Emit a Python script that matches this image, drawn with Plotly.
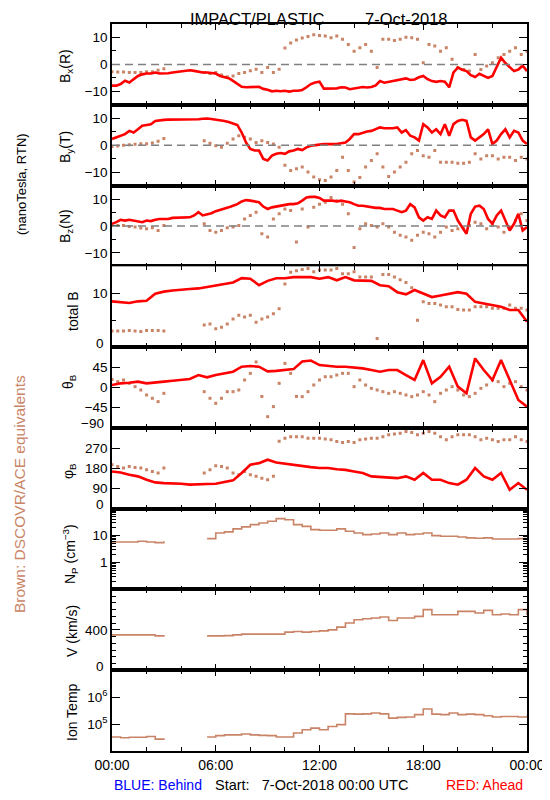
import plotly.graph_objects as go
from plotly.subplots import make_subplots

# ---------------- time grids (hours after 7-Oct-2018 00:00 UTC) ----------------
t_q = [i * 0.25 for i in range(97)]      # red (Ahead) magnetic field, 15-min
t_h = [i * 0.5 for i in range(49)]       # red angles / |B|, plasma, 30-min
t_b = [i / 3 for i in range(73)]         # brown (DSCOVR/ACE) field, 20-min

# ---------------- RED: Ahead ----------------
bx_ahead = [-7.9, -7.9, -7.3, -6.1, -6.7, -5.5, -4.3, -3.7, -3.4, -3.4, -3.0, -3.4,
            -3.4, -3.3, -3.0, -2.8, -2.7, -2.4, -2.2, -2.4, -2.8, -3.0, -3.0, -3.3,
            -3.4, -4.3, -4.6, -5.1, -6.1, -7.3, -8.3, -8.5, -8.5, -8.5, -8.3, -9.1,
            -9.4, -10.0, -9.8, -10.0, -9.8, -10.1, -9.8, -9.8, -9.5, -8.5, -7.3, -6.7,
            -6.4, -9.0, -8.9, -8.8, -8.9, -8.5, -8.6, -9.2, -9.0, -8.6, -8.4, -8.6,
            -8.4, -7.8, -6.2, -6.8, -6.5, -6.0, -5.9, -5.5, -5.2, -5.8, -5.6, -4.8,
            -4.3, -5.5, -6.2, -6.5, -6.2, -6.4, -8.5, -3.0, -1.2, -2.0, -2.5, -4.0,
            -4.7, -3.5, -4.3, -5.0, -4.3, -1.0, 2.5, 0.5, -1.2, -2.5, -1.9, -0.5,
            -2.5]
by_ahead = [2.3, 2.9, 3.5, 4.1, 5.3, 4.7, 5.9, 7.2, 7.5, 7.8, 9.0, 9.3,
            9.4, 9.5, 9.5, 9.5, 9.6, 9.6, 9.7, 9.6, 9.6, 9.8, 9.9, 9.7,
            9.5, 9.3, 9.0, 8.6, 8.1, 7.5, 4.7, 1.0, -1.4, -2.0, -2.0, -5.1,
            -5.7, -3.9, -3.2, -2.9, -3.2, -2.3, -2.0, -1.4, -1.8, -0.8, -0.2, 0.1,
            0.2, 0.4, 0.4, 0.4, 0.4, 0.7, 1.0, 2.3, 4.1, 4.1, 4.7, 5.1,
            5.3, 5.9, 6.6, 6.3, 6.3, 6.3, 6.6, 4.7, 5.6, 3.5, 2.9, 1.7,
            7.8, 6.6, 4.7, 5.9, 4.1, 7.8, 3.5, 7.8, 9.0, 9.4, 9.0, 2.9,
            1.7, 2.9, 4.1, 5.9, 0.4, 1.7, 4.1, 5.9, 2.9, 5.3, 4.7, 1.7,
            0.4]
bz_ahead = [0.8, 1.4, 2.3, 2.0, 2.3, 2.0, 1.8, 1.4, 2.0, 1.8, 2.3, 2.6,
            2.6, 2.6, 3.0, 3.0, 3.0, 3.2, 3.2, 3.9, 5.1, 3.9, 4.2, 4.7,
            5.5, 5.9, 6.3, 6.9, 7.5, 8.1, 9.1, 9.6, 9.4, 9.1, 8.8, 7.2,
            6.3, 6.9, 7.2, 7.5, 7.9, 8.1, 8.1, 8.4, 9.4, 10.6, 10.8, 10.8,
            10.4, 9.4, 9.4, 9.4, 9.1, 9.4, 9.1, 8.8, 8.1, 7.5, 7.5, 7.2,
            6.9, 6.7, 6.7, 6.3, 6.3, 6.3, 5.7, 5.1, 5.7, 8.1, 6.9, 3.2,
            2.0, 3.2, 2.6, 5.7, 3.9, 3.2, 5.7, 5.7, 2.0, -0.4, -2.9, 4.5,
            7.2, 7.5, 6.3, 2.6, 0.8, 3.9, 5.7, 2.0, -1.7, 0.8, 4.5, -1.7,
            -0.4]
bt_ahead = [8.5, 8.3, 8.2, 8.5, 8.6, 9.9, 10.3, 10.5, 10.7, 10.8, 10.9, 11.2,
            11.4, 11.7, 12.0, 12.8, 12.7, 11.5, 12.3, 12.8, 12.8, 13.0, 13.0, 13.0,
            12.7, 13.0, 12.4, 13.0, 12.4, 12.4, 12.3, 11.5, 11.3, 10.2, 9.8, 10.6,
            9.9, 9.3, 9.6, 9.9, 10.2, 9.9, 8.4, 8.1, 7.8, 7.5, 6.9, 6.9,
            4.7]
theta_ahead = [5.6, 9.3, 10.7, 13.0, 9.3, 10.7, 13.0, 15.2, 16.7, 18.9, 27.8, 22.6,
               27.8, 31.5, 35.2, 46.3, 47.8, 46.3, 36.0, 37.0, 39.0, 41.0, 58.0, 60.0,
               50.0, 47.8, 46.3, 46.3, 44.8, 42.6, 38.9, 35.2, 38.9, 38.9, 27.8, 16.7,
               61.0, 9.3, 24.0, 46.3, 1.9, -13.0, 64.8, 38.9, 16.7, 61.1, 16.7, -27.8,
               -42.6]
phi_ahead = [166, 161, 151, 144, 129, 117, 114, 114, 111, 107, 107, 110,
             111, 117, 126, 159, 196, 203, 218, 206, 200, 196, 188, 185,
             181, 181, 176, 173, 166, 159, 144, 141, 141, 136, 144, 129,
             159, 129, 129, 114, 107, 129, 181, 144, 129, 159, 84, 114,
             84]

# ---------------- BROWN: DSCOVR/ACE equivalents ----------------
N = None
bx_dscovr = [-2.7, -2.8, -2.8, -3.0, -3.0, -3.0, -2.7, -2.7, -2.2, -1.6,
             N, N, N, N, N, N,
             -3.0, -3.4, -3.0, -3.9, -4.6, -4.3, -3.4, -3.0, -2.4, -1.8,
             -3.0, -1.2, -3.0, -1.8, 6.1, 7.9, 9.1, 9.8, 10.4, 11.0,
             10.7, 10.5, 9.9, 10.5, 9.3, 7.4, 4.9, 6.2, 7.4, 4.9,
             -1.2, 9.3, 9.3, 8.9, 9.3, 10.1, 9.9, 9.3, 0.6, 7.4,
             6.8, 4.9, 6.2, 1.9, -1.2, -1.9, -2.5, 3.7, -1.9, -0.6,
             0.6, 2.5, 3.7, 4.9, 6.2, 3.7, 4.9]
by_dscovr = [-0.5, -0.3, 0.0, 0.2, 0.3, 0.5, 0.5, 0.8, 1.5, 2.5,
             N, N, N, N, N, N,
             1.6, 0.7, -0.2, -0.8, 0.7, 2.3, 3.5, 2.9, 2.3, 1.0,
             1.6, 1.0, 0.4, -0.8, -7.5, -9.4, -8.8, -8.1, -10.0, -11.8,
             -12.8, -13.1, -11.8, -9.4, -4.5, -9.4, -13.7, -12.0, -8.1, -5.7,
             -3.2, -8.1, -11.6, -10.0, -8.1, -6.3, -3.2, -2.0, -3.9, -4.5,
             -2.0, -6.3, -6.3, -6.3, -6.7, -6.7, -6.3, -3.2, -5.1, -3.9,
             -3.9, -5.1, -4.5, -4.5, -5.7, -4.5, -5.1]
bz_dscovr = [0.2, 0.2, 0.2, -0.2, -0.4, -0.8, -1.0, -0.7, -1.7, 0.2,
             N, N, N, N, N, N,
             0.8, -1.7, -2.3, -1.7, -0.7, -0.4, 0.2, 2.6, 3.9, 5.1,
             -2.9, -4.1, 2.6, 4.5, 6.3, 5.7, -6.0, 6.3, -0.4, 6.9,
             8.1, 8.8, 10.6, 9.4, 8.1, 4.5, -8.0, -1.0, 0.8, 0.2,
             -0.4, 0.8, -0.4, -2.3, -3.5, -4.1, -5.3, -3.5, -2.3, -2.9,
             -4.1, -2.3, -0.4, -1.7, -1.0, -1.0, 0.2, 1.4, 0.8, -1.0,
             0.2, -0.4, -2.3, -0.4, 2.0, 4.5, 2.0]
bt_dscovr = [3.0, 3.0, 3.0, 3.1, 3.0, 2.9, 3.1, 3.1, 3.1, 3.0,
             N, N, N, N, N, N,
             4.1, 4.3, 3.4, 3.7, 4.3, 5.2, 5.9, 5.6, 5.9, 4.6,
             5.2, 5.6, 6.2, 7.1, 11.7, 13.9, 14.2, 14.4, 14.6, 14.0,
             14.3, 14.3, 14.3, 14.6, 13.6, 13.6, 14.0, 13.0, 13.0, 13.0,
             1.6, 13.5, 13.5, 13.0, 12.5, 12.0, 11.0, 5.0, 8.4, 8.1,
             8.1, 7.8, 7.5, 7.5, 7.0, 6.9, 6.9, 7.5, 7.5, 7.5,
             7.2, 7.2, 7.2, 7.8, 7.2, 7.2, 6.9]
theta_dscovr = [18.0, 13.0, 16.7, 9.3, 1.9, -5.6, -16.7, -24.0, -31.5, -13.0,
                N, N, N, N, N, N,
                -9.3, -24.0, -35.2, -24.0, -9.3, -9.3, -5.6, 16.7, 31.5, 57.0,
                -20.0, -65.0, -42.6, 9.3, 53.7, 31.5, -20.0, -20.4, -9.3, 5.6,
                16.7, 24.0, 24.0, 27.8, 31.5, 31.5, 1.9, 16.7, 5.6, -1.9,
                -5.6, -9.3, -13.0, -9.3, -13.0, -16.7, -20.4, -16.7, -9.3, -16.7,
                -31.5, -13.0, -5.6, 1.9, -5.6, -16.7, -20.4, -13.0, -1.9, 5.6,
                16.7, 13.0, 1.9, 9.3, 13.0, 1.9, -5.6]
phi_dscovr = [196, 188, 181, 188, 184, 181, 173, 166, 159, 181,
              N, N, N, N, N, N,
              159, 173, 191, 188, 181, 159, 151, 166, 151, 144,
              136, 129, 144, 300, 314, 321, 321, 321, 314, 314,
              314, 310, 307, 299, 295, 299, 295, 307, 310, 314,
              314, 321, 329, 333, 336, 344, 339, 329, 336, 344,
              336, 321, 307, 321, 329, 329, 329, 321, 307, 314,
              307, 299, 307, 307, 321, 307, 299]
np_dscovr = [5.8, 5.8, 5.8, 6.2, 5.8, 5.5, 6.2, N, N, N, N, 7.7,
             12.5, 13.7, 17.7, 21.0, 25.5, 29.5, 34.0, 42.6, 39.0, 25.5, 22.0, 16.7,
             15.8, 15.8, 17.7, 14.5, 12.5, 10.9, 11.5, 12.5, 10.9, 12.5, 10.9, 11.5,
             12.5, 10.0, 9.4, 9.4, 8.9, 8.2, 8.0, 8.2, 7.5, 7.5, 7.5, 7.7,
             8.2]
v_dscovr = [350, 350, 350, 350, 350, 340, 350, N, N, N, N, 340,
            340, 343, 350, 357, 357, 357, 357, 357, 377, 383, 377, 383,
            390, 400, 427, 467, 500, 510, 517, 527, 493, 517, 517, 533,
            600, 550, 550, 550, 583, 583, 567, 593, 550, 557, 550, 600,
            550]
temp_dscovr = [33100, 30900, 32400, 32400, 34700, 27500, 29500, N, N, N, N, 33100,
               37200, 39800, 39800, 42700, 39800, 38000, 37200, 33100, 33100, 46800, 61700, 70800,
               61700, 81300, 95500, 240000, 234000, 240000, 257000, 240000, 166000, 178000, 182000, 224000,
               363000, 234000, 224000, 257000, 224000, 234000, 224000, 204000, 182000, 191000, 191000, 182000,
               204000]

hour_ticks = [0, 6, 12, 18, 24]
hour_labels = ["00:00", "06:00", "12:00", "18:00", "00:00"]
hour_minor = [2, 4, 8, 10, 14, 16, 20, 22]

RED = "#FF0000"
BROWN = "#C98467"
FONT = "Liberation Sans"

# The page body has an 8px margin; the figure is sized so that it fits the
# 550x800 window without scrollbars.  All positions below are given in
# window pixels and shifted by OFF.
OFF = 8
W, H = 542, 784
L, T = 112 - OFF, 24 - OFF
R = W - (527 - OFF)
B = H - (751 - OFF)
PW, PH = W - L - R, H - T - B


def pxx(px):
    return (px - OFF - L) / PW


def pxy(py):
    return (H - B - (py - OFF)) / PH


fig = make_subplots(rows=9, cols=1, vertical_spacing=0)

brown_field = [bx_dscovr, by_dscovr, bz_dscovr, bt_dscovr, theta_dscovr, phi_dscovr]
red_field = [(t_q, bx_ahead), (t_q, by_ahead), (t_q, bz_ahead),
             (t_h, bt_ahead), (t_h, theta_ahead), (t_h, phi_ahead)]

for i in range(6):
    fig.add_trace(go.Scatter(x=t_b, y=brown_field[i], mode="markers",
                             marker=dict(color=BROWN, size=3, symbol="square", line_width=0),
                             showlegend=False, hoverinfo="skip"), row=i + 1, col=1)
    tx, ty = red_field[i]
    fig.add_trace(go.Scatter(x=tx, y=ty, mode="lines",
                             line=dict(color=RED, width=2.6),
                             showlegend=False, hoverinfo="skip"), row=i + 1, col=1)

for i, ser in enumerate([np_dscovr, v_dscovr, temp_dscovr]):
    fig.add_trace(go.Scatter(x=t_h, y=ser, mode="lines",
                             line=dict(color=BROWN, width=1.6, shape="hv"),
                             connectgaps=False, showlegend=False, hoverinfo="skip"),
                  row=7 + i, col=1)

# dashed zero lines
for r in (1, 2, 3):
    fig.add_hline(y=0, row=r, col=1, line=dict(color="#808080", width=1.5, dash="8px,5px"))

axis_common = dict(showline=True, linecolor="black", linewidth=1.5, mirror="ticks",
                   showgrid=False, zeroline=False, ticks="inside", tickcolor="black",
                   tickwidth=1.2)

for r in range(1, 10):
    fig.update_xaxes(row=r, col=1, range=[0, 24], tickmode="array", tickvals=hour_ticks,
                     ticktext=hour_labels, showticklabels=(r == 9), ticklen=6,
                     minor=dict(tickvals=hour_minor, ticks="inside", ticklen=4,
                                tickcolor="black", tickwidth=1.2),
                     tickfont=dict(family=FONT, size=14, color="black"), **axis_common)

b_ticks = dict(range=[-15, 15], tickvals=[-10, 0, 10], ticktext=["\u221210", "0", "10"],
               minor=dict(tickvals=[-5, 5], ticks="inside", ticklen=4, tickcolor="black", tickwidth=1.2))
yconf = {
    1: b_ticks, 2: b_ticks, 3: b_ticks,
    4: dict(range=[0, 15], tickvals=[0, 10], ticktext=["", "10"],
            minor=dict(tickvals=[5], ticks="inside", ticklen=4, tickcolor="black", tickwidth=1.2)),
    5: dict(range=[-90, 90], tickvals=[-90, -45, 0, 45, 90], ticktext=["", "\u221245", "0", "45", ""]),
    6: dict(range=[0, 360], tickvals=[0, 90, 180, 270, 360], ticktext=["", "90", "180", "270", ""]),
    7: dict(type="log", range=[-1, 2], tickvals=[0.1, 1, 10, 100], ticktext=["", "1", "10", ""],
            minor=dict(tickvals=[m * d for d in (0.1, 1, 10) for m in range(2, 10)],
                       ticks="inside", ticklen=4, tickcolor="black", tickwidth=1.2)),
    8: dict(range=[0, 800], tickvals=[0, 400, 800], ticktext=["", "400", ""],
            minor=dict(tickvals=[400 * k / 6 for k in range(1, 12) if k != 6],
                       ticks="inside", ticklen=4, tickcolor="black", tickwidth=1.2)),
    9: dict(type="log", range=[4, 7], tickvals=[1e4, 1e5, 1e6, 1e7],
            ticktext=["", "10<sup>5</sup>", "10<sup>6</sup>", ""]),
}
for r in range(1, 10):
    fig.update_yaxes(row=r, col=1, tickmode="array", ticklen=8,
                     tickfont=dict(family=FONT, size=13.5, color="black"),
                     **axis_common, **yconf[r])

ann = []


def text(x, y, s, size=14, color="black", angle=0, xanchor="center", yanchor="middle"):
    ann.append(dict(x=x, y=y, xref="paper", yref="paper", text=s, showarrow=False,
                    textangle=angle, xanchor=xanchor, yanchor=yanchor,
                    font=dict(family=FONT, size=size, color=color)))


# title: two parts, top of text boxes at the very top of the figure
text(pxx(188), pxy(OFF), "IMPACT/PLASTIC", size=16.5, xanchor="left", yanchor="top")
text(pxx(450), pxy(OFF), "7-Oct-2018", size=16.5, xanchor="right", yanchor="top")

# y titles
ytitles = [
    (66, 66, "B<sub>x</sub>(R)"),
    (66, 147, "B<sub>y</sub>(T)"),
    (66, 226, "B<sub>z</sub>(N)"),
    (73, 311, "total B"),
    (69, 382, "\u03b8<sub>B</sub>"),
    (69, 471, "\u03c6<sub>B</sub>"),
    (70, 554, "N<sub>P</sub> (cm<sup>\u22123</sup>)"),
    (72, 631, "V (km/s)"),
    (72, 712, "Ion Temp"),
]
for x, y, s in ytitles:
    text(pxx(x), pxy(y), s, size=14, angle=-90)

text(pxx(21), pxy(184), "(nanoTesla, RTN)", size=13, angle=-90)
text(pxx(20), pxy(494), "Brown: DSCOVR/ACE equivalents", size=15.5, angle=-90, color=BROWN)

# bottom-edge tick labels (drawn slightly raised, as in the reference)
for yref, yv, s in [("y4", 0, "0"), ("y5", -90, "\u221290"), ("y6", 0, "0"), ("y8", 0, "0")]:
    ann.append(dict(x=pxx(106), y=yv, xref="paper", yref=yref, text=s, showarrow=False,
                    xanchor="right", yanchor="middle", yshift=4,
                    font=dict(family=FONT, size=13.5, color="black")))

text(pxx(112), pxy(785), "BLUE: Behind", size=14, color="#0000FF", xanchor="left")
text(pxx(213), pxy(785), "Start:\u00a0\u00a0 7-Oct-2018 00:00 UTC", size=14.5, xanchor="left")
text(pxx(525), pxy(785), "RED: Ahead", size=14, color=RED, xanchor="right")

fig.update_layout(width=W, height=H, margin=dict(l=L, r=R, t=T, b=B, autoexpand=False),
                  paper_bgcolor="white", plot_bgcolor="white", annotations=ann,
                  font=dict(family=FONT, color="black"), showlegend=False)

fig.write_html("out.html")
